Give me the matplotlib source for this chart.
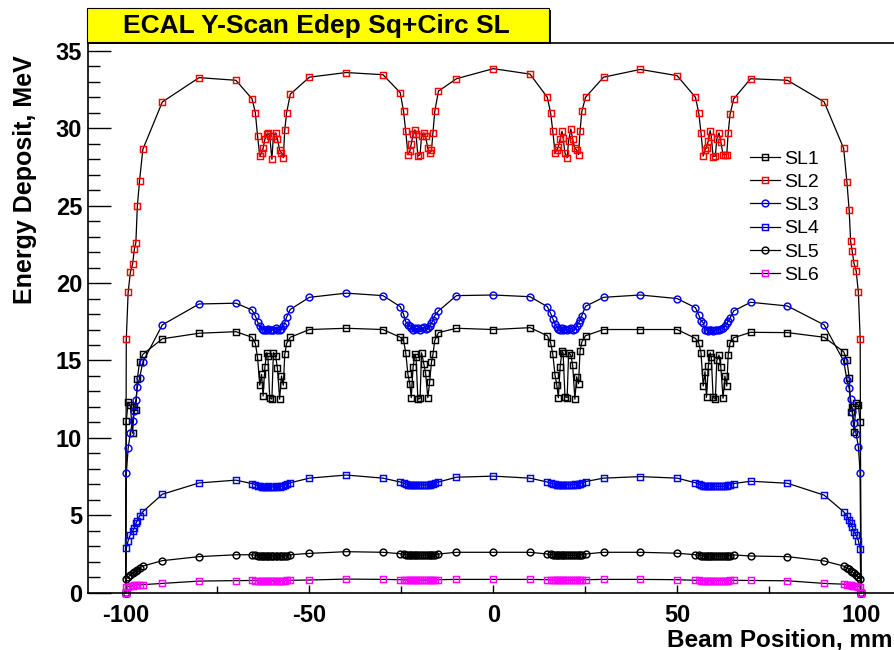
import matplotlib
matplotlib.use("Agg")
import matplotlib.pyplot as plt
from matplotlib.patches import Rectangle

plt.rcParams['font.family'] = ['Liberation Sans', 'DejaVu Sans']

# Beam positions (mm)
beam_pos = [-100, -99.8, -99.3, -98.7, -98.1, -97.6, -97.2, -96.8, -96.2, -95.3,
            -90, -80, -70,
            -65.6, -64.7, -64.1, -63.5, -63.0, -62.6, -62.1, -61.6, -61.3, -60.8,
            -60.2, -59.8, -59.2, -58.7, -58.1, -57.6, -57.1, -56.7, -56.2, -55.2,
            -50, -40, -30,
            -25.3, -24.4, -23.8, -23.2, -22.7, -22.3, -21.8, -21.3, -21.0, -20.5,
            -19.9, -19.5, -18.9, -18.4, -17.8, -17.3, -16.8, -16.4, -15.9, -14.9,
            -10, 0, 10,
            14.7, 15.6, 16.2, 16.8, 17.3, 17.7, 18.2, 18.7, 19.0, 19.5,
            20.1, 20.5, 21.1, 21.6, 22.2, 22.7, 23.2, 23.6, 24.1, 25.1,
            30, 40, 50,
            55.0, 55.9, 56.5, 57.1, 57.6, 58.0, 58.5, 59.0, 59.3, 59.8,
            60.4, 60.8, 61.4, 61.9, 62.5, 63.0, 63.5, 63.9, 64.4, 65.4,
            70, 80, 90,
            95.3, 96.2, 96.8, 97.2, 97.6, 98.1, 98.7, 99.3, 99.8, 100]

sl1 = [0, 11.1, 12.3, 12.1, 10.3, 12.0, 11.8, 13.8, 14.9, 15.4,
       16.4, 16.76, 16.86,
       16.5, 16.1, 15.2, 13.4, 14.1, 12.7, 14.6, 15.5, 15.3, 12.6,
       12.5, 15.5, 15.3, 14.5, 12.5, 14.0, 13.4, 15.4, 16.1, 16.5,
       17.0, 17.08, 17.0,
       16.5, 16.3, 15.5, 14.1, 13.5, 12.6, 14.6, 15.4, 15.2, 12.5,
       12.55, 15.5, 14.8, 14.2, 12.6, 13.6, 14.9, 15.4, 16.3, 16.8,
       17.08, 17.0, 17.12,
       16.6, 16.15, 15.4, 14.06, 13.4, 12.6, 14.6, 15.6, 15.5, 12.66,
       12.6, 15.5, 15.35, 14.7, 12.5, 13.95, 13.5, 15.6, 16.2, 16.6,
       17.0, 17.0, 17.0,
       16.43, 16.11, 15.5, 13.35, 14.28, 12.62, 14.64, 15.5, 15.2, 12.62,
       12.5, 15.0, 15.35, 14.56, 12.56, 14.0, 13.35, 15.35, 16.15, 16.47,
       16.82, 16.8, 16.5,
       15.57, 15.0, 13.9, 11.7, 12.0, 10.4, 12.27, 12.1, 11.05, 0]

sl2 = [0, 16.4, 19.4, 20.7, 21.2, 22.2, 22.6, 24.96, 26.6, 28.64,
       31.7, 33.27, 33.1,
       31.9, 31.0, 29.5, 28.2, 28.4, 28.7, 29.3, 29.6, 29.7, 29.5,
       28.0, 29.5, 29.7, 29.3, 28.6, 28.4, 28.1, 29.9, 31.0, 32.2,
       33.3, 33.6, 33.46,
       32.3, 31.1, 29.8, 28.3, 28.5, 29.0, 29.6, 29.9, 29.6, 28.2,
       28.3, 29.5, 29.7, 29.5, 28.7, 28.4, 28.6, 29.7, 31.1, 32.4,
       33.2, 33.85, 33.5,
       32.0, 31.0, 29.8, 28.4, 28.6, 28.8, 29.3, 29.8, 29.4, 28.4,
       28.1, 29.2, 29.95, 29.3, 28.7, 28.6, 28.3, 29.8, 31.1, 32.0,
       33.3, 33.8, 33.4,
       32.0, 30.97, 29.7, 28.2, 28.6, 28.75, 29.2, 29.85, 29.46, 28.17,
       28.2, 29.3, 29.7, 29.1, 28.3, 28.3, 28.3, 29.7, 30.9, 31.9,
       33.2, 33.1, 31.7,
       28.7, 26.5, 24.7, 22.7, 22.1, 21.3, 20.8, 19.4, 16.4, 0]

sl3 = [0, 7.7, 9.33, 10.3, 11.1, 11.76, 12.45, 13.3, 13.85, 14.9,
       17.3, 18.65, 18.7,
       18.26, 17.87, 17.5, 17.2, 17.05, 16.97, 17.0, 16.95, 17.05, 17.0,
       16.95, 17.0, 17.1, 17.0, 16.95, 17.05, 17.2, 17.45, 17.8, 18.3,
       19.08, 19.35, 19.19,
       18.48, 18.0, 17.5, 17.3, 17.2, 17.1, 17.0, 17.1, 17.05, 17.1,
       17.0, 17.1, 17.15, 17.05, 17.1, 17.2, 17.4, 17.6, 17.9, 18.2,
       19.19, 19.23, 19.12,
       18.48, 18.05, 17.7, 17.35, 17.15, 17.05, 17.0, 17.1, 17.0, 17.05,
       16.95, 17.05, 17.1, 17.0, 17.05, 17.2, 17.4, 17.6, 17.9, 18.5,
       19.08, 19.23, 19.0,
       18.41, 17.94, 17.57, 17.44, 17.0, 17.0, 16.9, 17.0, 16.95, 16.9,
       17.0, 16.95, 17.0, 17.05, 17.1, 17.2, 17.4, 17.55, 17.73, 18.2,
       18.76, 18.52, 17.3,
       14.97, 13.74, 13.2, 12.5, 11.7, 10.98, 10.25, 9.43, 7.7, 0]

sl4 = [0, 2.87, 3.36, 3.75, 3.97, 4.18, 4.48, 4.65, 4.95, 5.23,
       6.36, 7.09, 7.27,
       7.05, 6.98, 6.92, 6.88, 6.85, 6.85, 6.83, 6.85, 6.87, 6.85,
       6.83, 6.85, 6.88, 6.85, 6.85, 6.87, 6.9, 6.95, 7.0, 7.1,
       7.4, 7.6, 7.4,
       7.15, 7.08, 7.02, 6.98, 6.96, 6.95, 6.95, 6.97, 6.96, 6.95,
       6.97, 6.96, 6.95, 6.97, 6.98, 6.97, 7.0, 7.03, 7.08, 7.15,
       7.46, 7.53, 7.4,
       7.15, 7.08, 7.03, 7.0, 6.98, 6.97, 6.96, 6.98, 6.97, 6.96,
       6.98, 6.97, 6.96, 6.98, 6.99, 6.98, 7.0, 7.04, 7.08, 7.18,
       7.4, 7.5, 7.4,
       7.1, 7.0, 6.95, 6.9, 6.88, 6.87, 6.86, 6.88, 6.87, 6.86,
       6.87, 6.88, 6.86, 6.88, 6.87, 6.88, 6.9, 6.93, 6.98, 7.05,
       7.2, 7.07, 6.3,
       5.23, 4.95, 4.7, 4.48, 4.26, 3.94, 3.73, 3.36, 2.84, 0]

sl5 = [0, 0.9, 1.02, 1.15, 1.25, 1.33, 1.4, 1.48, 1.57, 1.72,
       2.07, 2.33, 2.45,
       2.45, 2.42, 2.4, 2.38, 2.37, 2.38, 2.36, 2.38, 2.37, 2.36,
       2.38, 2.37, 2.36, 2.38, 2.37, 2.38, 2.36, 2.38, 2.4, 2.45,
       2.54, 2.65, 2.61,
       2.52, 2.48, 2.46, 2.44, 2.42, 2.43, 2.41, 2.43, 2.42, 2.41,
       2.43, 2.42, 2.41, 2.43, 2.42, 2.43, 2.41, 2.44, 2.46, 2.5,
       2.61, 2.61, 2.61,
       2.5, 2.47, 2.45, 2.43, 2.42, 2.43, 2.41, 2.42, 2.43, 2.41,
       2.42, 2.43, 2.41, 2.42, 2.43, 2.41, 2.42, 2.44, 2.46, 2.5,
       2.61, 2.61, 2.55,
       2.45, 2.42, 2.4, 2.38, 2.37, 2.38, 2.36, 2.37, 2.38, 2.36,
       2.37, 2.38, 2.36, 2.37, 2.38, 2.36, 2.37, 2.38, 2.4, 2.44,
       2.37, 2.33, 2.05,
       1.72, 1.6, 1.5, 1.42, 1.35, 1.25, 1.15, 1.02, 0.88, 0]

sl6 = [0, 0.35, 0.4, 0.43, 0.45, 0.47, 0.48, 0.49, 0.5, 0.52,
       0.6, 0.75, 0.78,
       0.79, 0.78, 0.78, 0.77, 0.78, 0.77, 0.78, 0.77, 0.78, 0.77,
       0.78, 0.77, 0.78, 0.77, 0.78, 0.77, 0.78, 0.78, 0.79, 0.8,
       0.82, 0.88, 0.86,
       0.84, 0.83, 0.82, 0.82, 0.81, 0.82, 0.81, 0.82, 0.81, 0.82,
       0.81, 0.82, 0.81, 0.82, 0.81, 0.82, 0.81, 0.82, 0.83, 0.84,
       0.86, 0.86, 0.86,
       0.84, 0.83, 0.82, 0.81, 0.82, 0.81, 0.82, 0.81, 0.82, 0.81,
       0.82, 0.81, 0.82, 0.81, 0.82, 0.81, 0.82, 0.82, 0.83, 0.84,
       0.86, 0.86, 0.84,
       0.8, 0.79, 0.78, 0.78, 0.77, 0.78, 0.77, 0.78, 0.77, 0.78,
       0.77, 0.78, 0.77, 0.78, 0.77, 0.78, 0.77, 0.78, 0.79, 0.8,
       0.79, 0.77, 0.6,
       0.55, 0.5, 0.48, 0.47, 0.45, 0.44, 0.42, 0.4, 0.38, 0]

series_names = ["SL1", "SL2", "SL3", "SL4", "SL5", "SL6"]
series_values = [sl1, sl2, sl3, sl4, sl5, sl6]
series_markers = ["s", "s", "o", "s", "o", "s"]
series_colors = ["black", "red", "blue", "blue", "black", "magenta"]

title_text = "ECAL Y-Scan Edep Sq+Circ SL"
x_label = "Beam Position, mm"
y_label = "Energy Deposit, MeV"
x_ticks = [-100, -50, 0, 50, 100]
y_ticks = [0, 5, 10, 15, 20, 25, 30, 35]

W, H = 895, 650
fig = plt.figure(figsize=(W / 100, H / 100), dpi=100)
fig.patch.set_facecolor("white")

ax_l, ax_r, ax_t, ax_b = 87.7, 898.8, 42.5, 592.7
ax = fig.add_axes([ax_l / W, 1 - ax_b / H, (ax_r - ax_l) / W, (ax_b - ax_t) / H])

handles = []
for name, vals, mk, col in zip(series_names, series_values, series_markers, series_colors):
    ln, = ax.plot(beam_pos, vals, color="black", lw=0.9, marker=mk,
                  markersize=4.9, markerfacecolor="none", markeredgecolor=col,
                  markeredgewidth=1.05, label=name, clip_on=False)
    handles.append(ln)

ax.set_xlim(-110.3, 110.3)
ax.set_ylim(0, 35.54)
ax.set_xticks(x_ticks)
ax.set_xticks([-75, -25, 25, 75], minor=True)
ax.set_yticks(y_ticks)
ax.set_yticks([v for v in range(0, 36) if v % 5 != 0], minor=True)
ax.set_xticklabels([str(t) for t in x_ticks], fontsize=17, fontweight="bold")
ax.set_yticklabels([str(t) for t in y_ticks], fontsize=17, fontweight="bold")
ax.tick_params(axis="y", which="major", direction="in", length=16.5, width=1.0, pad=4)
ax.tick_params(axis="y", which="minor", direction="in", length=8.6, width=1.0)
ax.tick_params(axis="x", which="major", direction="in", length=6, width=1.0, pad=8)
ax.tick_params(axis="x", which="minor", direction="in", length=5, width=1.0)
for s in ax.spines.values():
    s.set_linewidth(1.2)

# Legend
leg = ax.legend(handles=handles, loc="upper left",
                bbox_to_anchor=(750 / W, 1 - 150 / H), bbox_transform=fig.transFigure,
                frameon=False, fontsize=14, handlelength=1.55, handletextpad=0.2,
                labelspacing=0.29, borderpad=0, borderaxespad=0)

# Axis titles
fig.text(25 / W, 1 - 55 / H, y_label, rotation=90, ha="center", va="top",
         fontsize=18, fontweight="bold")
fig.text(893 / W, 1 - 646 / H, x_label, ha="right", va="baseline",
         fontsize=17.5, fontweight="bold")

# Title box with shadow
bx0, bx1, by0, by1 = 87.3, 549, 8, 42.3
fig.patches.append(Rectangle(((bx0 + 2) / W, 1 - (by1 + 2) / H), (bx1 - bx0) / W, (by1 - by0) / H,
                             transform=fig.transFigure, facecolor="black", edgecolor="none", zorder=1))
fig.patches.append(Rectangle((bx0 / W, 1 - by1 / H), (bx1 - bx0) / W, (by1 - by0) / H,
                             transform=fig.transFigure, facecolor="#ffff00", edgecolor="black",
                             linewidth=0.8, zorder=2))
fig.text(316 / W, 1 - 26 / H, title_text, ha="center", va="center",
         fontsize=19, fontweight="bold", zorder=3)

fig.savefig("out.png", dpi=100, facecolor="white")
